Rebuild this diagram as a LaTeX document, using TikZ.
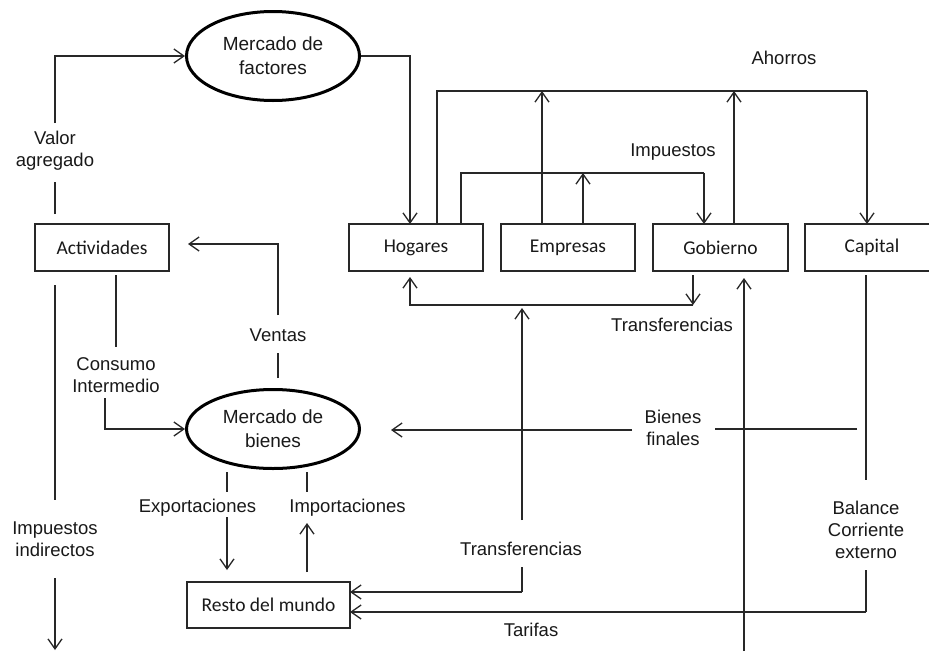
\documentclass[tikz,border=0pt]{standalone}
\usepackage{fontspec}
\setmainfont{Liberation Sans}
\newfontfamily\boxfont{Carlito}
\usetikzlibrary{arrows.meta,shapes.geometric,calc}
\definecolor{ln}{RGB}{40,40,40}
\definecolor{txt}{RGB}{25,25,25}
\begin{document}
\begin{tikzpicture}[x=1pt,y=-1pt,
  boxn/.style={draw=ln, line width=1.4pt, minimum width=134pt, minimum height=47pt, inner sep=0pt, text=txt, font=\boxfont\fontsize{19.5}{22}\selectfont},
  mkt/.style={ellipse, draw=black, line width=3pt, minimum width=173pt, minimum height=89pt, inner sep=0pt, align=center, text=txt, font=\fontsize{19}{24}\selectfont},
  lbl/.style={align=center, inner sep=0pt, text=txt, font=\fontsize{18.5}{22}\selectfont},
  con/.style={draw=ln, line width=1.3pt},
  arr/.style={con, -{Straight Barb[length=10pt,width=14pt,line width=1.3pt]}}
]
\useasboundingbox (0,0) rectangle (929,651);
\clip (0,0) rectangle (929,651);
\fill[white] (0,0) rectangle (929,651);

% nodes
\node[mkt] (mf) at (273,56) {Mercado de\\factores};
\node[mkt, minimum height=79pt] (mb) at (273,429) {Mercado de\\bienes};
\node[boxn] (act) at (102,247.5) {Actividades};
\node[boxn] (hog) at (416,247.5) {Hogares};
\node[boxn] (emp) at (568,247.5) {Empresas};
\node[boxn, minimum width=135pt] (gob) at (720.5,247.5) {Gobierno};
\node[boxn] (cap) at (872,247.5) {Capital};
\node[boxn, minimum width=163pt, minimum height=46pt] (rm) at (268.5,605) {Resto del mundo};

% labels
\node[lbl] (lva) at (55,151) {Valor\\agregado};
\node[lbl] (lah) at (784,58) {Ahorros};
\node[lbl] (lim) at (673,152) {Impuestos};
\node[lbl] (ltr1) at (672,325) {Transferencias};
\node[lbl] (lve) at (278,335) {Ventas};
\node[lbl] (lci) at (116,375.5) {Consumo\\Intermedio};
\node[lbl] (lbf) at (673,427.5) {Bienes\\finales};
\node[lbl] (lex) at (197.5,508) {Exportaciones};
\node[lbl] (lip) at (347.5,508) {Importaciones};
\node[lbl] (lii) at (55,539) {Impuestos\\indirectos};
\node[lbl] (ltr2) at (521,549) {Transferencias};
\node[lbl] (lbc) at (866,530) {Balance\\Corriente\\externo};
\node[lbl] (lta) at (531,630) {Tarifas};

% free-end coordinates
\coordinate (va0) at (55,214);
\coordinate (va1) at (55,182);
\coordinate (va2) at (55,123);
\coordinate (ve0) at (278,378);
\coordinate (ve1) at (278,353);
\coordinate (ve2) at (278,315);
\coordinate (veT) at (188,244);
\coordinate (ci0) at (116,275);
\coordinate (ci1) at (116,347);
\coordinate (ci2) at (105,398);
\coordinate (ii0) at (55,285);
\coordinate (ii1) at (55,500);
\coordinate (ii2) at (55,578);
\coordinate (ii3) at (55,650);
\coordinate (ex0) at (227,472);
\coordinate (ex1) at (227,492);
\coordinate (ex2) at (227,517);
\coordinate (ex3) at (227,570);
\coordinate (im0) at (307,472);
\coordinate (im1) at (307,492);
\coordinate (im2) at (307,572);
\coordinate (im3) at (307,523);
\coordinate (ah0) at (437,224);
\coordinate (ahL) at (437,91);
\coordinate (ahR) at (867,91);
\coordinate (ahC) at (867,224);
\coordinate (ae0) at (542,224);
\coordinate (ae1) at (542,91);
\coordinate (ag0) at (734,224);
\coordinate (ag1) at (734,91);
\coordinate (ip0) at (461,224);
\coordinate (ipL) at (461,173);
\coordinate (ipR) at (704,173);
\coordinate (ipG) at (704,224);
\coordinate (ie0) at (583,224);
\coordinate (ie1) at (583,173);
\coordinate (tg0) at (693,275);
\coordinate (tg1) at (693,305);
\coordinate (th1) at (410,305);
\coordinate (thT) at (410,277);
\coordinate (tb0) at (522,520);
\coordinate (tb1) at (522,308);
\coordinate (tb2) at (522,567);
\coordinate (tb3) at (522,592);
\coordinate (rmA) at (350,592);
\coordinate (ta0) at (744,651);
\coordinate (ta1) at (744,278);
\coordinate (bc0) at (866,275);
\coordinate (bc1) at (866,480);
\coordinate (bc2) at (866,570);
\coordinate (bc3) at (866,612);
\coordinate (rmB) at (350,612);
\coordinate (bf0) at (857,429);
\coordinate (bf1) at (715,429);
\coordinate (bf2) at (632,430);
\coordinate (bf3) at (391,430);
\coordinate (mfh) at (410,224);

% connectors
\draw[con] (va0) -- (va1);
\draw[arr] (va2) |- (mf.west);
\draw[arr] (mf.east) -| (mfh);

\draw[con] (ah0) -- (ahL) -- (ahR);
\draw[arr] (ahR) -- (ahC);
\draw[arr] (ae0) -- (ae1);
\draw[arr] (ag0) -- (ag1);

\draw[con] (ip0) -- (ipL) -- (ipR);
\draw[arr] (ipR) -- (ipG);
\draw[arr] (ie0) -- (ie1);

\draw[arr] (tg0) -- (tg1);
\draw[arr] (tg1) -- (th1) -- (thT);

\draw[arr] (tb0) -- (tb1);
\draw[con] (tb2) -- (tb3);
\draw[arr] (tb3) -- (rmA);

\draw[arr] (ta0) -- (ta1);

\draw[con] (bc0) -- (bc1);
\draw[con] (bc2) -- (bc3);
\draw[arr] (bc3) -- (rmB);

\draw[con] (bf0) -- (bf1);
\draw[arr] (bf2) -- (bf3);

\draw[con] (ve0) -- (ve1);
\draw[arr] (ve2) |- (veT);

\draw[con] (ci0) -- (ci1);
\draw[arr] (ci2) |- (mb.west);

\draw[con] (ii0) -- (ii1);
\draw[arr] (ii2) -- (ii3);

\draw[con] (ex0) -- (ex1);
\draw[arr] (ex2) -- (ex3);
\draw[con] (im0) -- (im1);
\draw[arr] (im2) -- (im3);
\end{tikzpicture}
\end{document}
